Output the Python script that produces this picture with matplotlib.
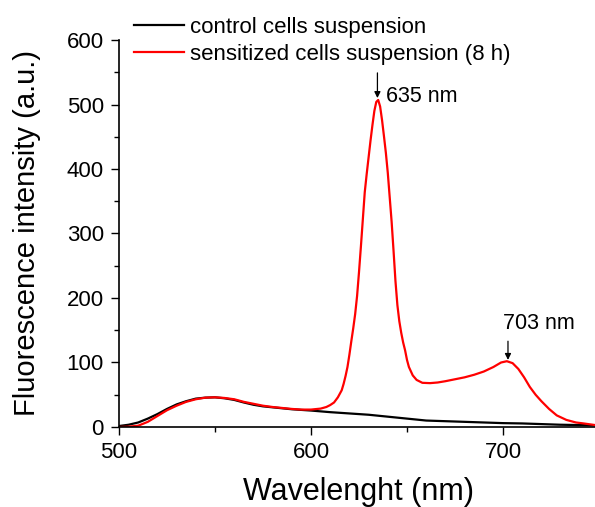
import matplotlib
matplotlib.use("Agg")
import matplotlib.pyplot as plt
from matplotlib.ticker import MultipleLocator

plt.rcParams['font.family'] = ['Liberation Sans', 'DejaVu Sans']

# control cells suspension
wl_control = [500, 505, 510, 515, 520, 525, 530, 535, 540, 545, 550, 555, 560, 565,
              570, 575, 580, 585, 590, 595, 600, 610, 620, 630, 640, 650, 660, 670,
              680, 690, 700, 710, 720, 730, 740, 750]
int_control = [1.5, 3.5, 7, 13, 20, 28, 35, 40, 44, 45.5, 46, 44.5, 42, 38,
               34.5, 32, 30.5, 29, 27.5, 26.5, 25.5, 23, 21, 19, 16, 13, 10, 9,
               8, 7, 6, 5.5, 4.5, 3.5, 3, 2.5]

# sensitized cells suspension (8 h)
wl_sens = [500, 505, 510, 515, 520, 525, 530, 535, 540, 545, 550, 555, 560, 565,
           570, 575, 580, 585, 590, 595, 600, 605, 608, 610, 612, 614, 616, 617,
           618, 619, 620, 621, 622, 623, 624, 625, 626, 627, 628, 629, 630, 631,
           632, 633, 634, 635, 636, 637, 638, 639, 640, 641, 642, 643, 644, 645,
           646, 647, 648, 649, 650, 651, 653, 655, 658, 662, 666, 670, 675, 680,
           685, 690, 695, 699, 702, 705, 708, 711, 714, 717, 720, 724, 728, 733,
           738, 742, 748, 750]
int_sens = [0, 0.5, 2, 8, 17, 26, 33, 39, 43, 45.5, 46, 45, 43, 39,
            36, 33, 31, 29.5, 28, 27, 27, 28.5, 31, 34, 38, 46, 57, 67,
            79, 93, 112, 133, 153, 175, 203, 240, 280, 322, 364, 392, 418, 444,
            468, 490, 504, 507, 497, 476, 451, 425, 394, 356, 318, 273, 226, 189,
            164, 146, 131, 119, 104, 93, 80, 73, 68.5, 68, 69, 71, 74, 77,
            81, 86, 93, 100, 102, 99, 90, 77, 62, 50, 40, 28, 18, 11,
            7, 5.5, 3, 2.5]

peak_wl = [634.6, 702.6]
peak_labels = ['635 nm', '703 nm']
arrow_top = [549, 133]
arrow_tip = [510, 104]
label_xy = [(639, 513), (718.75, 161)]

fig = plt.figure(figsize=(5.95, 5.07), dpi=100)
ax = fig.add_axes([0.2, 0.1578, 0.8067, 0.7633])

ax.plot(wl_control, int_control, color='black', lw=1.6, label='control cells suspension')
ax.plot(wl_sens, int_sens, color='red', lw=1.6, label='sensitized cells suspension (8 h)')

for x, y0, y1, lab, (tx, ty) in zip(peak_wl, arrow_top, arrow_tip, peak_labels, label_xy):
    ax.annotate('', xy=(x, y1), xytext=(x, y0),
                arrowprops=dict(arrowstyle='-|>', color='black', lw=0.9,
                                mutation_scale=9, shrinkA=0, shrinkB=0))
    ax.text(tx, ty, lab, ha='center' if lab == '703 nm' else 'left', va='center', fontsize=15.5)

ax.set_xlim(500, 750)
ax.set_ylim(0, 600)
ax.xaxis.set_major_locator(MultipleLocator(100))
ax.xaxis.set_minor_locator(MultipleLocator(50))
ax.yaxis.set_major_locator(MultipleLocator(100))
ax.yaxis.set_minor_locator(MultipleLocator(50))

for s in ['top', 'right']:
    ax.spines[s].set_visible(False)
for s in ['left', 'bottom']:
    ax.spines[s].set_linewidth(1.2)

ax.tick_params(which='major', direction='out', length=6, width=1.0, labelsize=16, pad=4.8)
ax.tick_params(which='minor', direction='out', length=3.5, width=1.0)
ax.tick_params(axis='x', which='major', pad=5)

ax.set_xlabel('Wavelenght (nm)', fontsize=22)
ax.set_ylabel('Fluorescence intensity (a.u.)', fontsize=21)
ax.xaxis.set_label_coords(0.5, -0.13)
ax.yaxis.set_label_coords(-0.1625, 0.5)

ax.legend(loc='upper left', bbox_to_anchor=(0.2252, 0.966), bbox_transform=fig.transFigure,
          frameon=False, fontsize=16, handlelength=2.25, handletextpad=0.27,
          labelspacing=0.24, borderpad=0, borderaxespad=0)

fig.savefig('out.png', dpi=100)
